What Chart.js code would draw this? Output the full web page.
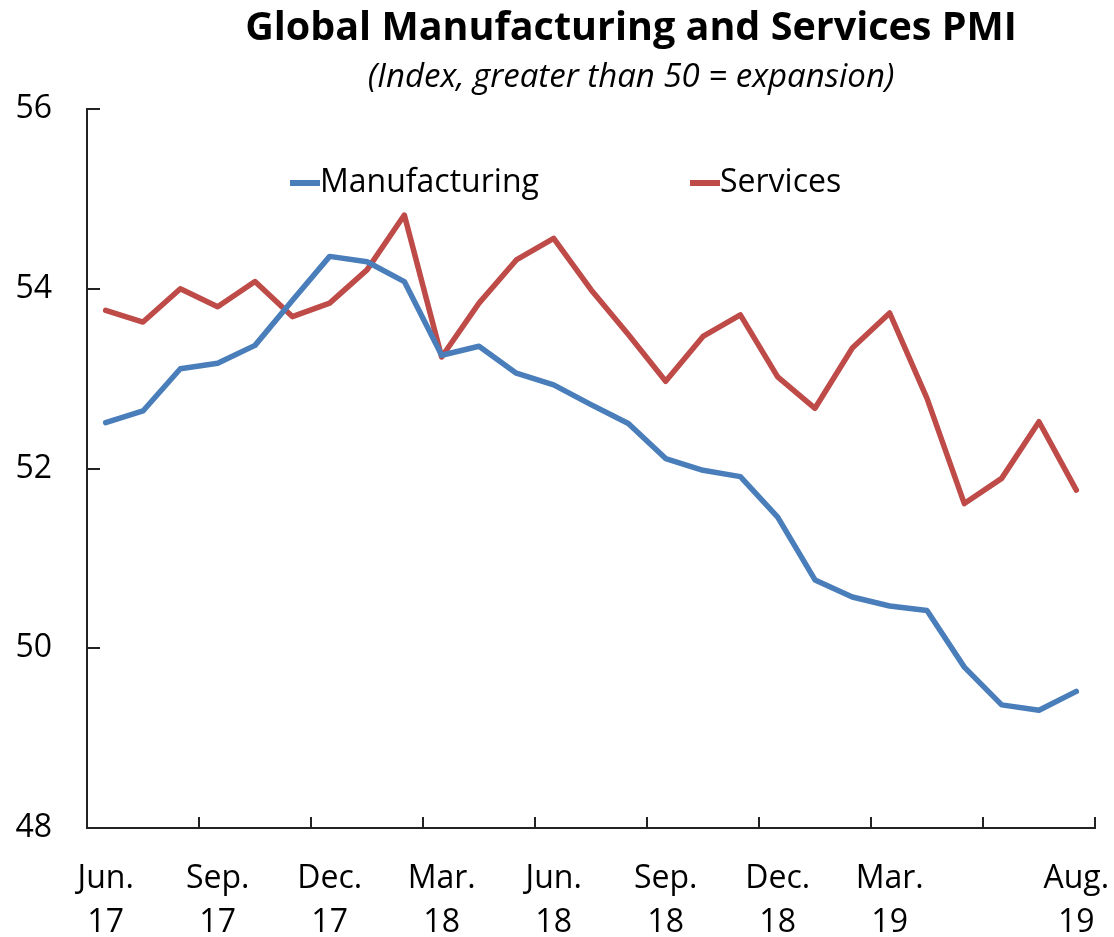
<!DOCTYPE html>
<html>
<head>
<meta charset="utf-8">
<script src="https://cdn.jsdelivr.net/npm/chart.js@4/dist/chart.umd.min.js"></script>
<style>
  html, body { margin: 0; padding: 0; background: #fff; }
  #wrap { position: relative; width: 1114px; height: 937px; }
  #chart { position: absolute; left: 0; top: 0; }
  .head { position: absolute; left: 631px; transform: translateX(-50%); white-space: nowrap;
          font-family: 'Open Sans', sans-serif; color: #000; line-height: 1; }
  #title { top: 6px; font-size: 39.5px; font-weight: bold; }
  #subtitle { top: 58px; font-size: 33px; font-style: italic; }
</style>
</head>
<body>
<div id="wrap">
  <canvas id="chart" width="1114" height="937"></canvas>
  <div id="title" class="head">Global Manufacturing and Services PMI</div>
  <div id="subtitle" class="head">(Index, greater than 50 = expansion)</div>
</div>
<script>
// months, Jun 2017 -> Aug 2019
const months = ['Jun. 17', 'Jul. 17', 'Aug. 17', 'Sep. 17', 'Oct. 17', 'Nov. 17', 'Dec. 17',
  'Jan. 18', 'Feb. 18', 'Mar. 18', 'Apr. 18', 'May 18', 'Jun. 18', 'Jul. 18', 'Aug. 18',
  'Sep. 18', 'Oct. 18', 'Nov. 18', 'Dec. 18', 'Jan. 19', 'Feb. 19', 'Mar. 19', 'Apr. 19',
  'May 19', 'Jun. 19', 'Jul. 19', 'Aug. 19'];
// only these months get a label under the axis
const labeledMonths = ['Jun. 17', 'Sep. 17', 'Dec. 17', 'Mar. 18', 'Jun. 18', 'Sep. 18',
  'Dec. 18', 'Mar. 19', 'Aug. 19'];

const manufacturing = [52.51, 52.64, 53.11, 53.17, 53.37, 53.87, 54.36, 54.30, 54.08, 53.26,
  53.36, 53.06, 52.93, 52.71, 52.50, 52.11, 51.98, 51.91, 51.46, 50.76, 50.57, 50.47, 50.42,
  49.79, 49.37, 49.31, 49.52];
const services = [53.76, 53.63, 54.00, 53.80, 54.08, 53.69, 53.84, 54.21, 54.82, 53.24,
  53.84, 54.32, 54.56, 53.99, 53.49, 52.97, 53.47, 53.71, 53.02, 52.67, 53.34, 53.73, 52.78,
  51.61, 51.89, 52.52, 51.76];

const yMin = 48;
const yMax = 56;
const yStep = 2;

const BLUE = '#4a7ebb';
const RED = '#be4b48';
const FONT = 'Open Sans';

// tick marks point inward, and the legend sits inside the plot
const innerTicks = {
  id: 'innerTicks',
  afterDraw(chart) {
    const { ctx, chartArea: a, scales: { x, y } } = chart;
    ctx.save();
    ctx.strokeStyle = '#222';
    ctx.lineWidth = 2;
    ctx.beginPath();
    y.ticks.forEach(t => {
      const py = Math.round(y.getPixelForValue(t.value));
      ctx.moveTo(a.left, py);
      ctx.lineTo(a.left + 13, py);
    });
    for (let i = 0; i <= months.length; i += 3) {
      const px = Math.round(x.getPixelForValue(Math.min(i, months.length) - 0.5));
      ctx.moveTo(px, a.bottom);
      ctx.lineTo(px, a.bottom - 11);
    }
    ctx.stroke();

    // legend
    const legendX = [290, 690];
    const legendY = 183;
    ctx.font = `32px '${FONT}'`;
    ctx.textBaseline = 'middle';
    ctx.textAlign = 'left';
    chart.data.datasets.forEach((ds, i) => {
      ctx.strokeStyle = ds.borderColor;
      ctx.lineWidth = 6;
      ctx.beginPath();
      ctx.moveTo(legendX[i], legendY);
      ctx.lineTo(legendX[i] + 30, legendY);
      ctx.stroke();
      ctx.fillStyle = '#000';
      ctx.fillText(ds.label, legendX[i] + 30, legendY);
    });
    ctx.restore();
  }
};

new Chart(document.getElementById('chart'), {
  type: 'line',
  data: {
    labels: months,
    datasets: [
      { label: 'Manufacturing', data: manufacturing, borderColor: BLUE },
      { label: 'Services', data: services, borderColor: RED }
    ]
  },
  options: {
    responsive: false,
    animation: false,
    layout: { padding: { left: 15, right: 19, top: 109, bottom: 0 } },
    elements: {
      line: { borderWidth: 5.5, tension: 0, borderJoinStyle: 'round', borderCapStyle: 'round' },
      point: { radius: 0 }
    },
    plugins: {
      legend: { display: false },
      title: { display: false },
      tooltip: { enabled: false }
    },
    scales: {
      x: {
        offset: true,
        grid: { display: false, drawTicks: false, offset: true },
        border: { display: true, color: '#222', width: 2 },
        ticks: {
          autoSkip: false, maxRotation: 0, minRotation: 0, padding: 28, color: '#000',
          font: { family: FONT, size: 32, lineHeight: 1.4 },
          callback: (v, i) => labeledMonths.includes(months[i]) ? months[i].split(' ') : ''
        },
        afterFit(s) {
          s.height = 109;
          s.paddingLeft = 0;
          s.paddingRight = 0;
        }
      },
      y: {
        min: yMin,
        max: yMax,
        grid: { display: false, drawTicks: false },
        border: { display: true, color: '#222', width: 2 },
        ticks: {
          stepSize: yStep, padding: 35, color: '#000',
          font: { family: FONT, size: 32 }
        },
        afterFit(s) {
          s.width = 72;
        }
      }
    }
  },
  plugins: [innerTicks]
});
</script>
</body>
</html>
